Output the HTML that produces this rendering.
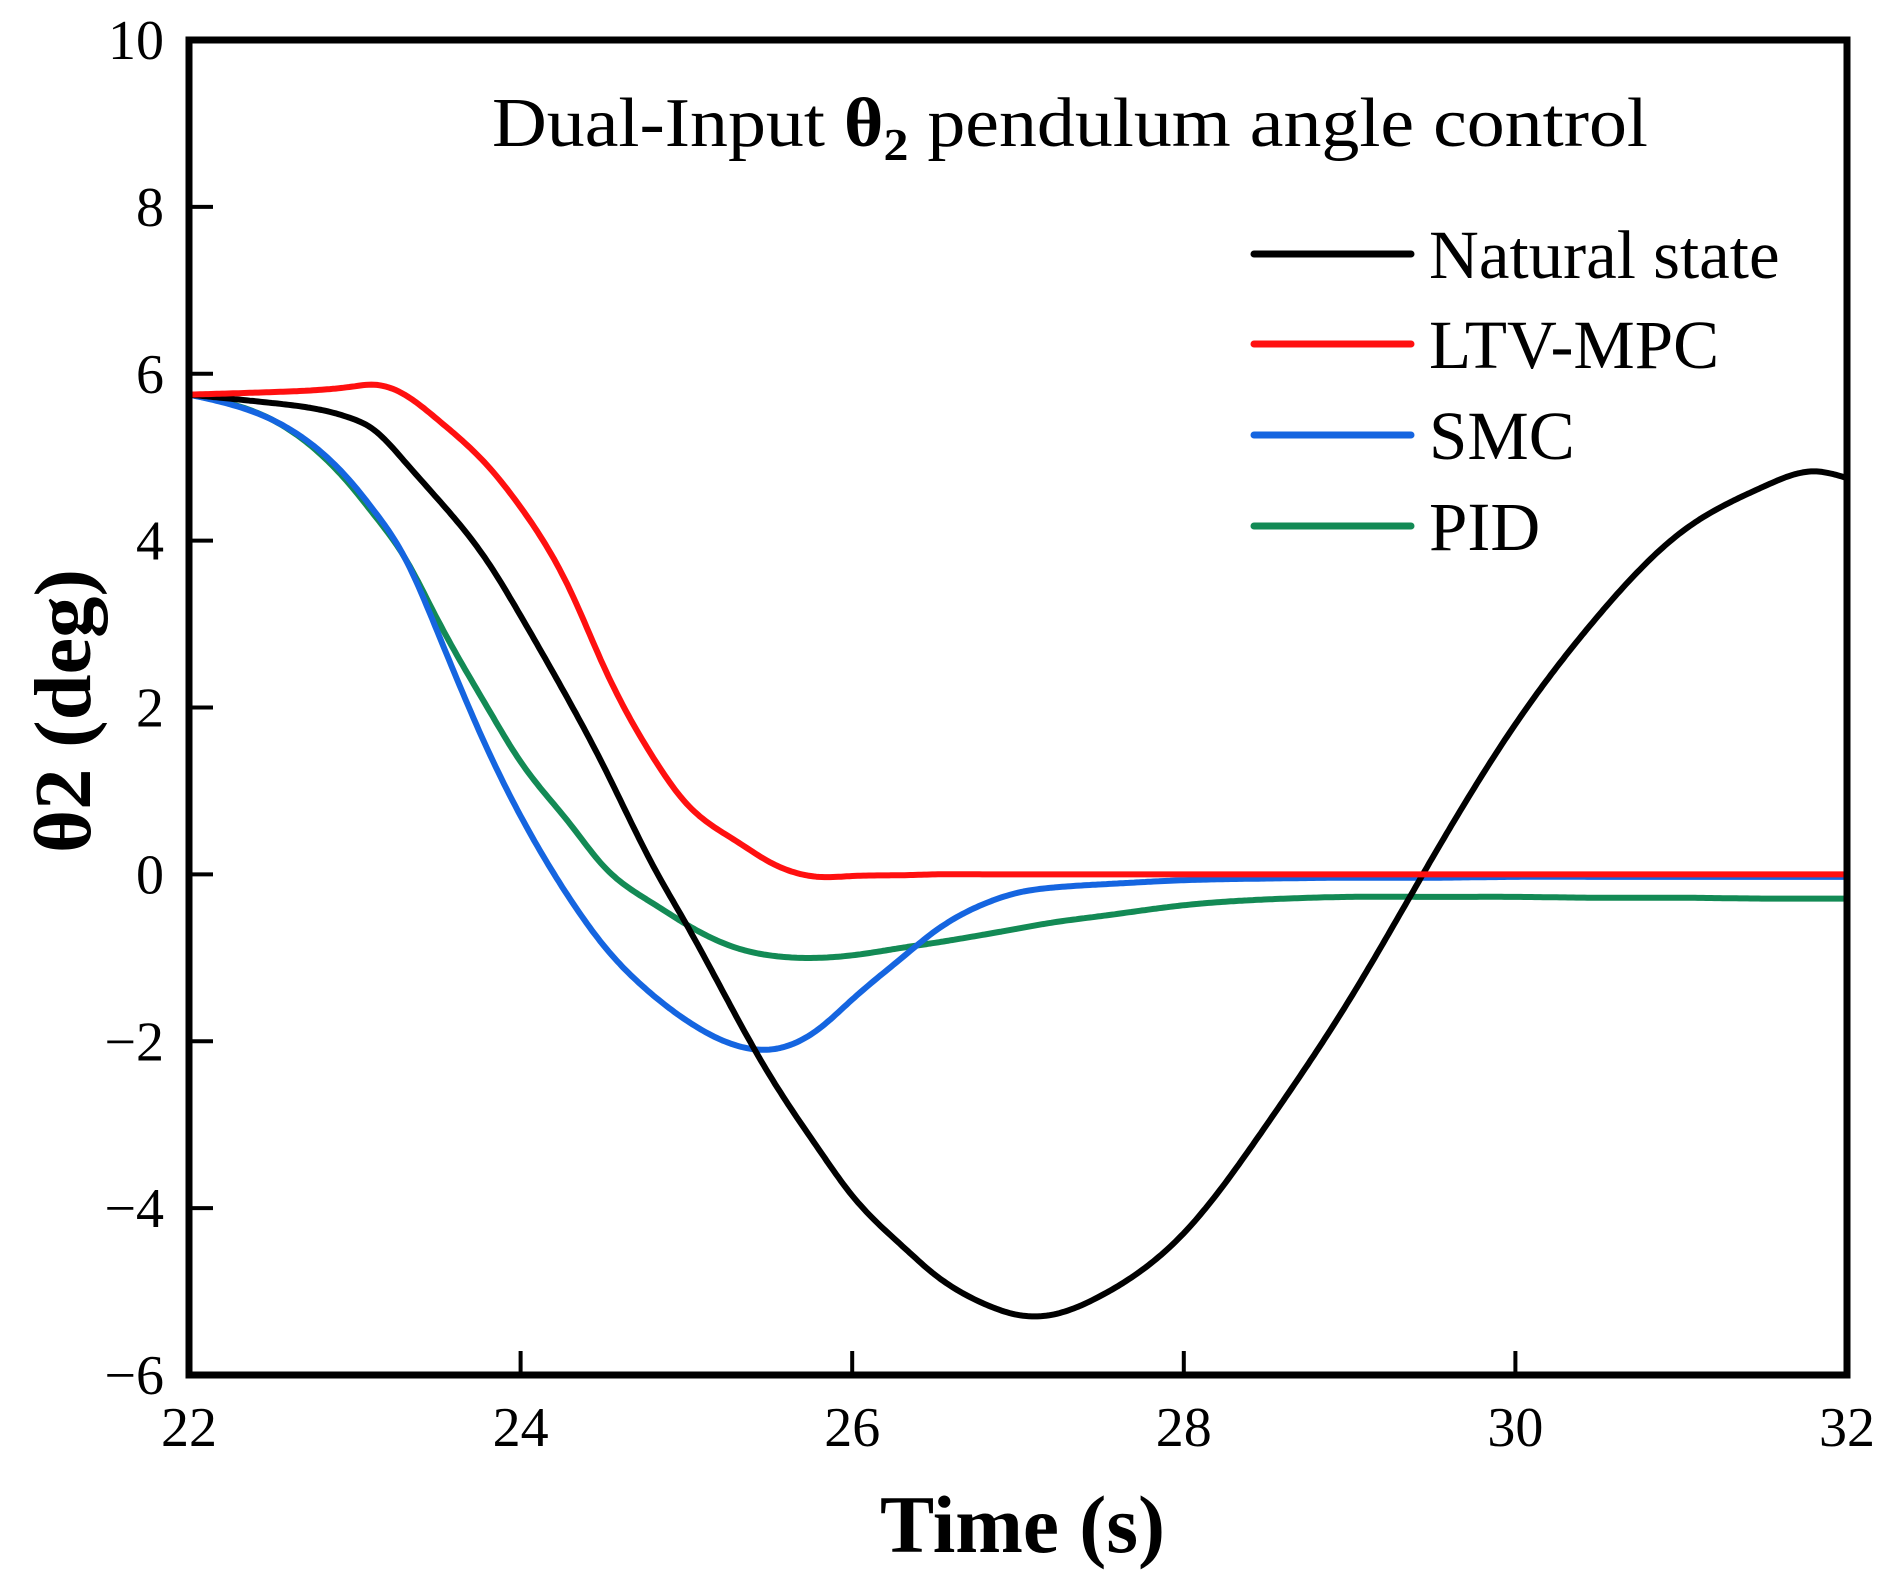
<!DOCTYPE html>
<html><head><meta charset="utf-8"><style>
html,body{margin:0;padding:0;background:#fff}
svg{display:block}
text{font-family:"Liberation Serif",serif;fill:#000}
</style></head><body>
<svg id="chart" width="1888" height="1571" viewBox="0 0 1888 1571" xmlns="http://www.w3.org/2000/svg">
<rect x="0" y="0" width="1888" height="1571" fill="#fff"/>
<g id="plot"></g>
<g id="axes"></g>
<text x="492" y="146" font-size="70" textLength="1156" lengthAdjust="spacingAndGlyphs">Dual-Input <tspan font-weight="bold">θ<tspan font-size="46" dy="14">2</tspan></tspan><tspan dy="-14"> pendulum angle control</tspan></text>
<text x="880" y="1552" font-size="82" font-weight="bold" textLength="285" lengthAdjust="spacingAndGlyphs">Time (s)</text>
<text transform="translate(90,853) rotate(-90)" font-size="80" font-weight="bold" textLength="284" lengthAdjust="spacingAndGlyphs">θ2 (deg)</text>
<g id="legend"></g>
</svg>
<script>
const t = [22,22.5,23,23.1,23.3,23.5,23.8,24,24.3,24.5,24.8,25,25.3,25.5,25.8,26,26.3,26.5,26.8,27,27.2,27.5,28,28.5,29,29.5,30,30.5,31,31.5,31.8,32];
const natural = [5.75,5.65,5.45,5.35,4.95,4.5,3.75,3.1,2.05,1.3,0.1,-0.6,-1.7,-2.4,-3.3,-3.85,-4.45,-4.8,-5.15,-5.28,-5.28,-5.05,-4.3,-3.0,-1.5,0.2,1.8,3.1,4.1,4.65,4.83,4.75];
const ltvmpc = [5.75,5.78,5.85,5.87,5.75,5.45,4.9,4.4,3.4,2.5,1.4,0.85,0.4,0.15,-0.03,-0.02,-0.01,0,0,0,0,0,0,0,0,0,0,0,0,0,0,0];
const smc = [5.75,5.45,4.65,4.4,3.8,2.9,1.5,0.7,-0.3,-0.85,-1.45,-1.75,-2.05,-2.1,-1.85,-1.5,-1.0,-0.68,-0.35,-0.22,-0.16,-0.12,-0.07,-0.05,-0.04,-0.04,-0.03,-0.03,-0.03,-0.03,-0.03,-0.03];
const pid = [5.75,5.45,4.6,4.35,3.8,3.05,2.0,1.35,0.6,0.1,-0.35,-0.6,-0.88,-0.97,-1.0,-0.97,-0.88,-0.82,-0.72,-0.65,-0.58,-0.5,-0.37,-0.3,-0.27,-0.27,-0.27,-0.28,-0.28,-0.29,-0.29,-0.29];
const xTicks = [22,24,26,28,30,32];
const yTicks = [-6,-4,-2,0,2,4,6,8,10];
const seriesNames = ["Natural state","LTV-MPC","SMC","PID"];
const seriesColors = ["#000000","#ff1010","#1565e0","#138a55"];
const series = [natural, ltvmpc, smc, pid];

const L=189,R=1847,T=40,B=1375;
const xs = v => L + (v-22)/(32-22)*(R-L);
const ys = v => B - (v+6)/(10+6)*(B-T);
const NS="http://www.w3.org/2000/svg";
const plot=document.getElementById('plot'), axes=document.getElementById('axes'), legend=document.getElementById('legend');
function mk(tag, attrs, parent){const e=document.createElementNS(NS,tag);for(const k in attrs)e.setAttribute(k,attrs[k]);parent.appendChild(e);return e;}

// natural cubic spline in t
function spline(x,y){
  const n=x.length, h=[], a=[], l=[1], mu=[0], z=[0], c=new Array(n).fill(0), b=[], d=[];
  for(let i=0;i<n-1;i++)h[i]=x[i+1]-x[i];
  for(let i=1;i<n-1;i++)a[i]=3/h[i]*(y[i+1]-y[i])-3/h[i-1]*(y[i]-y[i-1]);
  for(let i=1;i<n-1;i++){l[i]=2*(x[i+1]-x[i-1])-h[i-1]*mu[i-1];mu[i]=h[i]/l[i];z[i]=(a[i]-h[i-1]*z[i-1])/l[i];}
  for(let j=n-2;j>=0;j--){c[j]=z[j]-mu[j]*c[j+1];b[j]=(y[j+1]-y[j])/h[j]-h[j]*(c[j+1]+2*c[j])/3;d[j]=(c[j+1]-c[j])/(3*h[j]);}
  return v=>{let i=0;while(i<n-2&&v>x[i+1])i++;const dx=v-x[i];return y[i]+b[i]*dx+c[i]*dx*dx+d[i]*dx*dx*dx;};
}
function pathFor(vals){
  const f=spline(t,vals);let d='';
  for(let k=0;k<=600;k++){const v=22+10*k/600;d+=(k?'L':'M')+xs(v).toFixed(1)+','+ys(f(v)).toFixed(1);}
  return d;
}
const order=[3,2,0,1];
order.forEach(i=>{
  const el=mk('path',{d:pathFor(series[i]),fill:'none',stroke:seriesColors[i],'stroke-width':6,'stroke-linejoin':'round'},plot);
  
  
});

const frame=mk('rect',{x:L,y:T,width:R-L,height:B-T,fill:'none',stroke:'#000','stroke-width':7},axes);



xTicks.forEach(v=>{
  const tk=mk('line',{x1:xs(v),x2:xs(v),y1:B,y2:B-24,stroke:'#000','stroke-width':4},axes);
  
  
  const lb=mk('text',{x:xs(v),y:1446,'font-size':56,'text-anchor':'middle'},axes);
  lb.textContent=v;
  
  
});
yTicks.forEach(v=>{
  const tk=mk('line',{x1:L,x2:L+24,y1:ys(v),y2:ys(v),stroke:'#000','stroke-width':4},axes);
  
  
  const lb=mk('text',{x:164,y:ys(v)+19,'font-size':56,'text-anchor':'end'},axes);
  lb.textContent=v<0?'\u2212'+Math.abs(v):v;
  
  
});

const rows=[254,344,435,526];
seriesNames.forEach((n,i)=>{
  const ln=mk('line',{x1:1254,x2:1411,y1:rows[i],y2:rows[i],stroke:seriesColors[i],'stroke-width':7,'stroke-linecap':'round'},legend);
  
  
  const tx=mk('text',{x:1429,y:rows[i]+24,'font-size':69},legend);
  tx.textContent=n;
  
  
});
</script>
</body></html>
